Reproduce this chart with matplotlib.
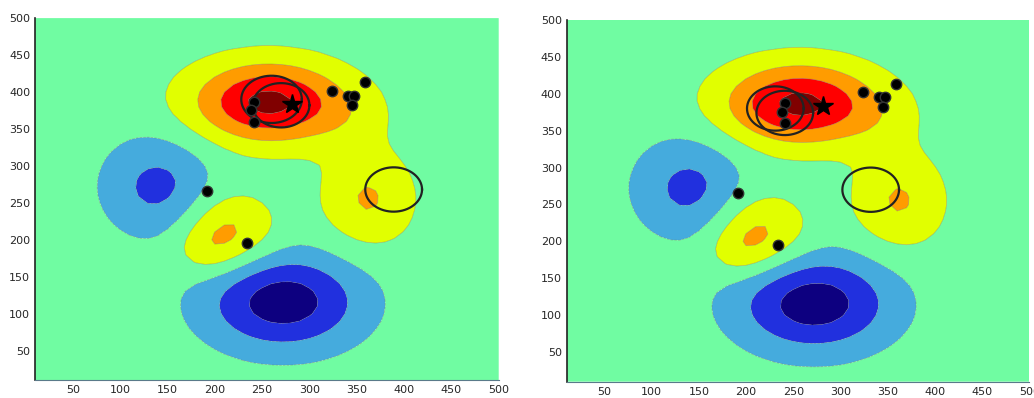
import numpy as np
import matplotlib
matplotlib.use("Agg")
import matplotlib.pyplot as plt

# Gaussian bumps that make up the field
bump_x = [257, 362, 214, 140, 272, 345, 190]
bump_y = [386, 255, 210, 272, 116, 365, 182]
bump_amp = [3.8, 1.6, 1.82, -1.8, -3.1, 0.4, 0.6]
bump_sx = [56, 33, 34, 40, 57, 30, 22]
bump_sy = [38, 45, 36, 47, 45, 30, 22]

levels = [-9, -2.5, -1.5, -0.5, 0.5, 1.5, 2.5, 3.5, 9]
band_colors = ['#0d0080', '#2130de', '#45abdd', '#70fca2',
               '#e1ff00', '#ff9c00', '#ff0000', '#800000']

# observation points and best-fit star (same in both panels)
dot_x = [241, 238, 241, 324, 359, 341, 347, 345, 192, 234]
dot_y = [387, 375, 360, 402, 413, 395, 395, 382, 266, 195]
star_x, star_y = 282, 384

# circles: centre x, centre y, radius
left_circles = [(260, 390, 32), (270, 382, 30), (389, 268, 30)]
right_circles = [(231, 380, 30), (241, 374, 30), (332, 270, 30)]

ticks = list(range(50, 501, 50))

# coarse 10-unit grid, like the original
gx = np.arange(10, 501, 10)
gy = np.arange(10, 501, 10)
X, Y = np.meshgrid(gx, gy)
Z = np.zeros_like(X, dtype=float)
for bx, by, a, sx, sy in zip(bump_x, bump_y, bump_amp, bump_sx, bump_sy):
    Z += a * np.exp(-((X - bx) ** 2 / (2 * sx ** 2) + (Y - by) ** 2 / (2 * sy ** 2)))

t = np.linspace(0, 2 * np.pi, 200)

fig = plt.figure(figsize=(10.34, 3.98), dpi=100)
ax1 = fig.add_axes([0.0338, 0.045, 0.4485, 0.9095])
ax2 = fig.add_axes([0.548, 0.041, 0.4475, 0.909])

for ax, circles in [(ax1, left_circles), (ax2, right_circles)]:
    ax.contourf(X, Y, Z, levels=levels, colors=band_colors, antialiased=True)
    ax.contour(X, Y, Z, levels=levels[1:-1], colors='#707050', linewidths=0.5, alpha=0.45)
    for cx, cy, r in circles:
        ax.plot(cx + r * np.cos(t), cy + r * np.sin(t), color='#222222', lw=1.6)
    ax.plot(dot_x, dot_y, 'o', color='black', markeredgecolor='#333333', markersize=7.5)
    ax.plot(star_x, star_y, '*', color='black', markersize=15)
    ax.set_xlim(10, 500)
    ax.set_ylim(10, 500)
    ax.set_xticks(ticks)
    ax.set_yticks(ticks)
    ax.tick_params(labelsize=8, labelcolor='#262626', length=0, pad=3.5)
    ax.spines['top'].set_visible(False)
    ax.spines['right'].set_visible(False)
    ax.spines['left'].set_color('#222222')
    ax.spines['bottom'].set_color('#5a7a8a')
    ax.spines['left'].set_linewidth(1.2)
    ax.spines['bottom'].set_linewidth(0.8)

fig.savefig('out.png', dpi=100)
